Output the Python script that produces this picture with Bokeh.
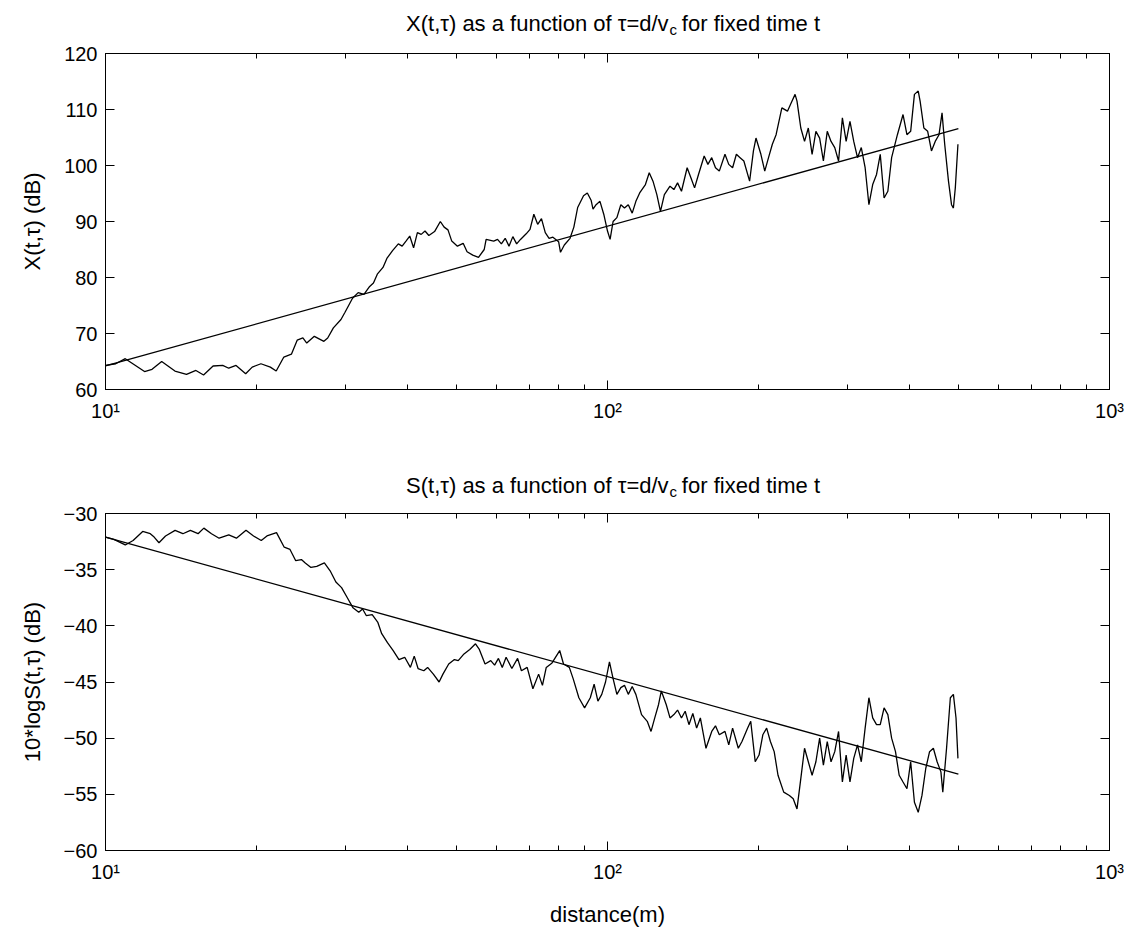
from bokeh.plotting import figure
from bokeh.layouts import column
from bokeh.models import FixedTicker, LinearAxis, LogAxis, CustomJSTickFormatter, Range1d
from bokeh.core.properties import value
from bokeh.embed import file_html
from bokeh.resources import INLINE

FONT = "Liberation Sans"

# ---------------- data ----------------
# distance (m)
top_d = [10.0, 10.48, 10.95, 11.96, 12.38, 12.94, 13.75, 14.50, 15.14, 15.68,
         16.38, 17.12, 17.6, 18.20, 19.02, 19.6, 20.4, 21.3, 21.88, 22.66,
         23.46, 24.09, 24.73, 25.17, 26.06, 27.23, 27.71, 28.44, 29.45, 30.0,
         31.05, 31.87, 32.72, 33.59, 34.18, 34.79, 35.71, 36.35, 37.31, 38.31,
         38.99, 39.68, 40.37, 41.09, 41.81, 42.55, 43.30, 44.07, 45.24, 46.45,
         47.27, 48.11, 48.95, 50.24, 51.58, 52.51, 53.90, 55.34, 56.81, 57.31,
         59.34, 60.39, 61.46, 62.55, 63.65, 64.78, 65.92, 67.09, 68.87, 70.09,
         71.33, 72.59, 73.87, 75.17, 76.49, 77.85, 79.91, 80.61, 82.03, 84.21,
         85.70, 87.21, 89.59, 91.16, 92.75, 93.57, 94.9, 96.6, 98.3, 100.0,
         101.2, 102.6, 104.4, 106.3, 108.1, 110.0, 112.0, 113.9, 115.9, 119.0,
         121.1, 123.2, 125.4, 127.5, 129.8, 133.2, 135.6, 137.9, 140.4, 144.1,
         146.6, 149.1, 151.8, 155.8, 158.5, 161.3, 164.1, 167.0, 171.4, 174.4,
         177.5, 180.6, 183.7, 186.9, 191.9, 195.3, 197.6, 202.1, 205.7, 209.3,
         213.0, 216.7, 222.5, 228.3, 232.3, 236.4, 238.5, 242.7, 246.9, 251.2,
         255.6, 260.1, 264.6, 269.2, 274.0, 278.8, 283.6, 288.6, 293.7, 298.8,
         304.1, 309.4, 314.8, 320.3, 326.0, 331.7, 337.5, 343.5, 349.4, 355.6,
         361.8, 368.1, 378.0, 387.9, 394.9, 401.7, 408.7, 415.9, 419.5, 426.8,
         434.3, 441.9, 449.6, 457.5, 463.9, 469.6, 477.8, 484.5, 488.7, 493.0,
         499.0]
# X(t,tau) in dB
top_x = [64.3, 64.6, 65.5, 63.2, 63.6, 65.0, 63.3, 62.7, 63.4, 62.6,
         64.2, 64.3, 63.8, 64.3, 62.8, 64.0, 64.6, 64.0, 63.3, 65.8,
         66.3, 68.8, 69.2, 68.3, 69.5, 68.6, 69.2, 71.0, 72.5, 73.8,
         76.3, 77.3, 77.0, 78.4, 79.0, 80.6, 81.8, 83.4, 84.8, 86.0,
         85.6, 86.5, 87.4, 85.3, 88.0, 87.7, 88.3, 87.5, 88.2, 90.0,
         89.0, 88.5, 86.5, 85.6, 86.1, 84.6, 84.0, 83.6, 85.0, 86.8,
         86.5, 86.8, 86.0, 87.0, 85.6, 87.3, 86.0, 86.8, 87.8, 88.6,
         91.3, 89.5, 90.5, 88.0, 87.0, 87.2, 86.4, 84.5, 85.8, 87.0,
         89.0, 92.5, 94.6, 95.1, 93.8, 92.2, 93.0, 93.6, 91.3, 88.3,
         86.8, 90.0, 90.7, 93.0, 92.4, 93.0, 91.5, 93.6, 95.1, 96.6,
         98.7, 97.2, 94.8, 91.8, 94.8, 96.3, 95.7, 96.9, 95.4, 99.6,
         97.8, 96.0, 98.4, 101.7, 100.2, 101.4, 99.6, 99.0, 102.0, 100.2,
         99.6, 102.0, 101.4, 100.8, 97.2, 102.6, 104.9, 102.0, 99.0, 101.4,
         103.8, 105.5, 110.3, 109.7, 111.2, 112.7, 111.5, 106.7, 104.3, 106.7,
         102.0, 106.1, 104.9, 100.8, 106.1, 104.3, 103.2, 100.8, 108.5, 104.3,
         107.9, 104.3, 101.4, 103.2, 99.6, 93.0, 96.6, 98.4, 102.0, 94.2,
         95.4, 101.4, 105.5, 109.1, 105.5, 106.1, 112.7, 113.3, 111.5, 106.7,
         106.1, 102.6, 104.3, 105.5, 109.4, 103.8, 97.2, 93.0, 92.4, 96.0,
         103.8]
top_fit_d = [10.0, 500.0]
top_fit_x = [64.2, 106.6]

bot_d = [10.0, 10.39, 10.95, 11.35, 11.86, 12.28, 12.50, 12.78, 13.17, 13.76,
         14.26, 14.76, 15.29, 15.70, 16.26, 16.84, 17.60, 18.23, 19.05, 19.72,
         20.43, 20.97, 21.91, 22.70, 23.31, 23.93, 24.56, 25.00, 25.66, 26.35,
         27.29, 28.02, 28.77, 29.53, 30.32, 31.12, 31.95, 32.52, 33.09, 33.98,
         34.88, 35.50, 36.45, 37.42, 38.42, 39.45, 40.49, 41.21, 41.94, 43.06,
         43.82, 44.99, 46.19, 47.01, 48.27, 49.55, 50.43, 51.78, 53.16, 54.58,
         55.55, 57.03, 58.54, 59.58, 60.64, 61.71, 62.81, 64.49, 66.21, 67.38,
         69.18, 71.02, 72.91, 74.20, 75.51, 77.54, 80.31, 81.73, 83.93, 85.42,
         87.69, 90.02, 92.41, 94.05, 95.7, 97.4, 99.1, 100.9, 102.6, 104.4,
         106.3, 108.1, 110.0, 112.0, 113.9, 116.9, 120.0, 122.1, 124.2, 126.4,
         128.0, 130.9, 133.2, 135.6, 137.9, 140.4, 142.8, 145.3, 147.9, 150.5,
         153.1, 157.1, 161.3, 164.1, 167.0, 171.4, 174.4, 177.5, 182.2, 185.3,
         190.2, 192.9, 196.9, 200.4, 203.9, 207.5, 211.1, 214.8, 218.6, 224.4,
         230.3, 234.4, 238.5, 242.7, 246.9, 251.2, 255.6, 260.1, 264.6, 269.2,
         274.0, 278.8, 283.6, 288.6, 293.7, 298.8, 304.1, 309.4, 314.8, 320.3,
         326.0, 331.7, 337.5, 343.5, 349.4, 355.6, 361.8, 368.1, 374.7, 381.1,
         387.9, 394.9, 401.7, 408.7, 415.9, 423.1, 430.5, 438.1, 445.8, 453.5,
         461.5, 465.5, 473.6, 481.9, 488.7, 494.6, 499.0]
# 10*log S(t,tau) in dB
bot_s = [-32.1, -32.3, -32.8, -32.4, -31.6, -31.8, -32.1, -32.6, -32.0, -31.5,
         -31.8, -31.5, -31.8, -31.3, -31.8, -32.2, -31.9, -32.2, -31.5, -32.0,
         -32.4, -32.0, -31.7, -33.0, -33.2, -34.2, -34.1, -34.4, -34.8, -34.7,
         -34.4, -35.1, -36.1, -36.6, -37.5, -38.4, -38.8, -38.5, -39.1, -39.0,
         -39.7, -40.7, -41.5, -42.2, -43.0, -42.8, -43.7, -42.7, -43.8, -44.0,
         -43.7, -44.3, -45.0, -44.3, -43.4, -43.0, -43.1, -42.5, -42.1, -41.6,
         -42.1, -43.4, -43.1, -43.5, -42.9, -43.7, -42.8, -43.8, -42.9, -44.0,
         -43.7, -45.6, -44.3, -45.3, -43.7, -43.3, -42.2, -43.4, -43.7, -44.7,
         -46.4, -47.3, -46.4, -45.2, -46.7, -46.1, -45.0, -43.2, -44.7, -46.1,
         -45.5, -45.3, -46.1, -45.4, -46.1, -47.9, -48.5, -49.4, -48.2, -47.0,
         -45.8, -47.0, -48.2, -47.9, -47.5, -48.2, -47.6, -48.8, -47.8, -49.1,
         -48.2, -50.9, -49.4, -48.9, -49.7, -49.4, -50.6, -49.1, -50.9, -50.3,
         -49.1, -48.5, -52.1, -51.5, -49.7, -49.1, -50.3, -51.2, -53.3, -54.8,
         -55.1, -55.4, -56.3, -53.6, -50.9, -52.1, -53.3, -52.1, -50.0, -52.4,
         -50.3, -52.1, -51.2, -49.4, -53.9, -51.5, -53.9, -51.8, -50.6, -52.1,
         -49.1, -46.4, -48.2, -48.8, -48.8, -47.3, -47.9, -50.0, -51.2, -53.3,
         -53.9, -54.5, -52.1, -55.7, -56.6, -55.1, -52.7, -51.2, -50.9, -52.1,
         -53.0, -54.8, -50.9, -46.4, -46.1, -48.2, -51.8]
bot_fit_d = [10.0, 500.0]
bot_fit_s = [-32.1, -53.2]

x_major_ticks = [10, 100, 1000]
x_minor_ticks = [20, 30, 40, 50, 60, 70, 80, 90, 200, 300, 400, 500, 600, 700, 800, 900]
x_tick_labels = ["10\u00b9", "10\u00b2", "10\u00b3"]
top_y_ticks = [60, 70, 80, 90, 100, 110, 120]
bot_y_ticks = [-60, -55, -50, -45, -40, -35, -30]

top_title = ["X(t,\u03c4) as a function of \u03c4=d/v", "c", "for fixed time t"]
bot_title = ["S(t,\u03c4) as a function of \u03c4=d/v", "c", "for fixed time t"]
top_ylabel = "X(t,\u03c4) (dB)"
bot_ylabel = "10*logS(t,\u03c4) (dB)"
x_label = "distance(m)"

assert len(top_d) == len(top_x)
assert len(bot_d) == len(bot_s)

# ---------------- figure construction ----------------
W = 1134
FRAME_W = 1004
BLANK = CustomJSTickFormatter(code="return ''")


def style_axis(ax, is_x, blank=False):
    ax.axis_line_color = "black"
    ax.axis_line_width = 1
    ax.major_tick_line_color = "black"
    ax.major_tick_in = 9
    ax.major_tick_out = 0
    ax.minor_tick_in = 5
    ax.minor_tick_out = 0
    ax.major_label_text_font = FONT
    ax.major_label_text_font_size = "0px" if blank else "20px"
    ax.major_label_text_color = "black"
    ax.axis_label_text_font = FONT
    ax.axis_label_text_font_size = "22px"
    ax.axis_label_text_font_style = "normal"
    ax.axis_label_text_color = "black"
    if blank:
        ax.major_label_standoff = 0
    if is_x:
        ax.ticker = FixedTicker(ticks=x_major_ticks, minor_ticks=x_minor_ticks)
        ax.minor_tick_line_color = "black"
    else:
        ax.minor_tick_line_color = None


def title_strip(parts, h, baseline):
    t = figure(width=W, height=h, x_range=Range1d(0, W), y_range=Range1d(h, 0),
               min_border_left=0, min_border_right=0, min_border_top=0, min_border_bottom=0,
               x_axis_location=None, y_axis_location=None,
               output_backend="svg", toolbar_location=None,
               background_fill_color="white", border_fill_color="white")
    t.outline_line_color = None
    t.xgrid.visible = False
    t.ygrid.visible = False
    split = 636
    t.text(x=[split], y=[baseline], text=[parts[0]], text_align="right",
           text_baseline="alphabetic", text_font=value(FONT), text_font_size="22px",
           text_color="black")
    t.text(x=[split + 1], y=[baseline + 6], text=[parts[1]], text_align="left",
           text_baseline="alphabetic", text_font=value(FONT), text_font_size="15px",
           text_color="black")
    t.text(x=[split + 15], y=[baseline], text=[parts[2]], text_align="left",
           text_baseline="alphabetic", text_font=value(FONT), text_font_size="22px",
           text_color="black")
    return t


def make_panel(d, v, fit_d, fit_v, yr, yticks, ylabel, top, fh, bottom, xlabel=None):
    p = figure(x_axis_type="log", x_range=(10, 1000), y_range=yr,
               frame_width=FRAME_W, frame_height=fh,
               min_border_left=105, min_border_right=25,
               min_border_top=top, min_border_bottom=bottom,
               output_backend="svg", toolbar_location=None,
               background_fill_color="white", border_fill_color="white")
    p.outline_line_color = "black"
    p.xgrid.visible = False
    p.ygrid.visible = False

    p.line(d, v, color="black", line_width=1.3)
    p.line(fit_d, fit_v, color="black", line_width=1.3)

    xb = p.xaxis[0]
    style_axis(xb, True)
    xb.major_label_overrides = dict(zip(x_major_ticks, x_tick_labels))
    xb.major_label_standoff = 10
    if xlabel:
        xb.axis_label = xlabel
        xb.axis_label_standoff = 16

    yl = p.yaxis[0]
    style_axis(yl, False)
    yl.ticker = FixedTicker(ticks=yticks)
    yl.major_label_standoff = 8
    yl.axis_label = ylabel
    yl.axis_label_standoff = 16

    xt = LogAxis(formatter=BLANK)
    style_axis(xt, True, blank=True)
    p.add_layout(xt, "above")
    yr_ax = LinearAxis(formatter=BLANK)
    style_axis(yr_ax, False, blank=True)
    yr_ax.ticker = FixedTicker(ticks=yticks)
    p.add_layout(yr_ax, "right")
    return p


t1 = title_strip(top_title, 40, 23)
p1 = make_panel(top_d, top_x, top_fit_d, top_fit_x, (60, 120), top_y_ticks, top_ylabel,
                13, 336, 51)
t2 = title_strip(bot_title, 62, 45)
p2 = make_panel(bot_d, bot_s, bot_fit_d, bot_fit_s, (-60, -30), bot_y_ticks, bot_ylabel,
                11, 337, 90, xlabel=x_label)

layout = column(t1, p1, t2, p2)
open("out.html", "w").write(file_html(layout, INLINE))
